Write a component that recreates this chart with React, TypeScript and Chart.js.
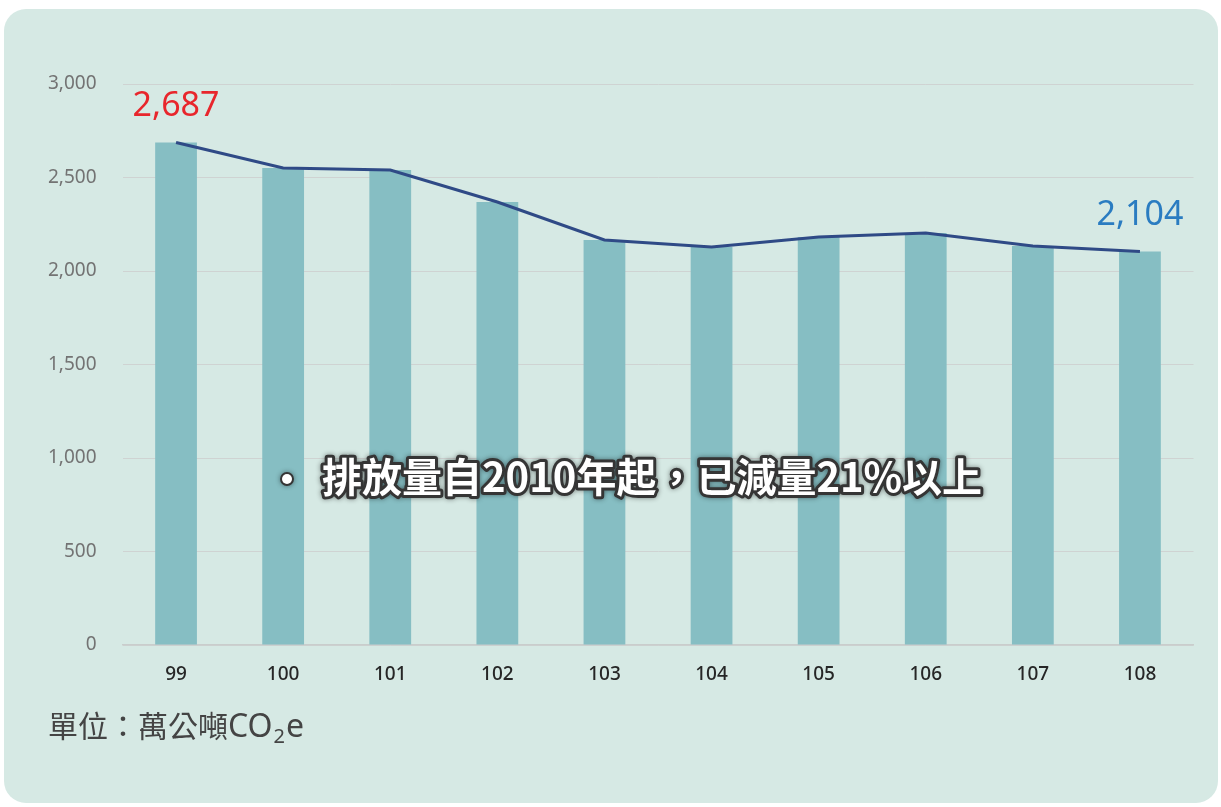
import { useEffect, useRef } from "react";
import { Chart, registerables } from "chart.js";

Chart.register(...registerables);

// ---- data ----
const years: string[] = ["99", "100", "101", "102", "103", "104", "105", "106", "107", "108"];
const emissionBars: number[] = [2687, 2551, 2540, 2369, 2166, 2128, 2182, 2203, 2134, 2104];
const emissionLine: number[] = [2687, 2551, 2540, 2369, 2166, 2128, 2182, 2203, 2134, 2104];
const yTickValues: number[] = [0, 500, 1000, 1500, 2000, 2500, 3000];
const labelledPoints: number[] = [0, 9];
const labelColors: string[] = ["#e8262c", "#2a7cc1"];
const headline = "排放量自2010年起，已減量21%以上";
const unitCjk = "單位：萬公噸";
const unitLatin = "CO";
const unitSub = "2";
const unitSuffix = "e";

const W = 1221;
const H = 807;

const fmt = (v: number) => v.toLocaleString("en-US");

const valueLabelPlugin = {
  id: "valueLabels",
  afterDatasetsDraw(chart: any) {
    const ctx = chart.ctx as CanvasRenderingContext2D;
    const meta = chart.getDatasetMeta(0);
    ctx.save();
    ctx.font = '34px "Noto Sans"';
    ctx.textAlign = "center";
    ctx.textBaseline = "alphabetic";
    labelledPoints.forEach((idx, i) => {
      const el = meta.data[idx];
      if (!el) return;
      ctx.fillStyle = labelColors[i];
      ctx.fillText(fmt(emissionLine[idx]), el.x, el.y - 27);
    });
    ctx.restore();
  },
};

const overlayTextPlugin = {
  id: "overlayText",
  afterDraw(chart: any) {
    const ctx = chart.ctx as CanvasRenderingContext2D;
    ctx.save();
    // headline
    const hy = 477;
    ctx.font = 'bold 40px "Noto Sans CJK TC"';
    ctx.textAlign = "left";
    ctx.textBaseline = "middle";
    ctx.lineJoin = "round";
    ctx.strokeStyle = "#353535";
    ctx.lineWidth = 6;
    ctx.shadowColor = "rgba(0,0,0,0.45)";
    ctx.shadowBlur = 5;
    ctx.strokeText(headline, 322, hy);
    ctx.beginPath();
    ctx.arc(287, hy + 2, 5, 0, Math.PI * 2);
    ctx.lineWidth = 4;
    ctx.stroke();
    ctx.shadowBlur = 0;
    ctx.shadowColor = "transparent";
    ctx.fillStyle = "#ffffff";
    ctx.fill();
    ctx.fillText(headline, 322, hy);

    // unit label
    ctx.fillStyle = "#444444";
    ctx.textBaseline = "alphabetic";
    let x = 48;
    const by = 737;
    ctx.font = '30px "Noto Sans CJK TC"';
    ctx.fillText(unitCjk, x, by);
    x += ctx.measureText(unitCjk).width;
    ctx.font = '32px "Noto Sans"';
    ctx.fillText(unitLatin, x, by);
    x += ctx.measureText(unitLatin).width;
    ctx.font = '20px "Noto Sans"';
    ctx.fillText(unitSub, x + 1, by + 6);
    x += ctx.measureText(unitSub).width + 2;
    ctx.font = '32px "Noto Sans"';
    ctx.fillText(unitSuffix, x, by);
    ctx.restore();
  },
};

export default function App() {
  const ref = useRef<HTMLCanvasElement | null>(null);

  useEffect(() => {
    if (!ref.current) return;
    const chart = new Chart(ref.current, {
      type: "bar",
      data: {
        labels: years,
        datasets: [
          {
            type: "line",
            data: emissionLine,
            borderColor: "#2f4a86",
            borderWidth: 3,
            pointRadius: 0,
            tension: 0,
            fill: false,
            order: 1,
          } as any,
          {
            type: "bar",
            data: emissionBars,
            backgroundColor: "#86bec3",
            borderWidth: 0,
            barPercentage: 0.39,
            categoryPercentage: 1,
            order: 2,
          },
        ],
      },
      options: {
        responsive: false,
        animation: false,
        devicePixelRatio: 1,
        layout: { padding: { left: 0, top: 84, right: 27.5, bottom: 122 } },
        plugins: {
          legend: { display: false },
          tooltip: { enabled: false },
          title: { display: false },
        },
        scales: {
          x: {
            afterFit: (s: any) => {
              s.height = 40;
            },
            grid: { display: false, drawTicks: false },
            border: { display: true, color: "#c9cdcc", width: 1.5 },
            ticks: {
              padding: 18,
              color: "#262626",
              font: { family: "Noto Sans", size: 19, weight: 500 as any },
            },
          },
          y: {
            min: 0,
            max: 3000,
            afterFit: (s: any) => {
              s.width = 122.5;
            },
            afterBuildTicks: (s: any) => {
              s.ticks = yTickValues.map((v) => ({ value: v }));
            },
            grid: { color: "#cfd3d2", lineWidth: 1, drawTicks: false },
            border: { display: false },
            ticks: {
              padding: 26,
              color: "#737373",
              font: { family: "Noto Sans", size: 19 },
              callback: (v: any) => fmt(Number(v)),
            },
          },
        },
      },
      plugins: [valueLabelPlugin, overlayTextPlugin],
    });
    return () => chart.destroy();
  }, []);

  return (
    <div style={{ position: "absolute", left: 0, top: 0, width: W, height: H, background: "#ffffff" }}>
      <div
        style={{
          position: "absolute",
          left: 4,
          top: 9,
          width: 1214,
          height: 794,
          borderRadius: 22,
          background: "#d6e9e4",
        }}
      />
      <canvas ref={ref} width={W} height={H} style={{ position: "absolute", left: 0, top: 0, width: W, height: H }} />
    </div>
  );
}
